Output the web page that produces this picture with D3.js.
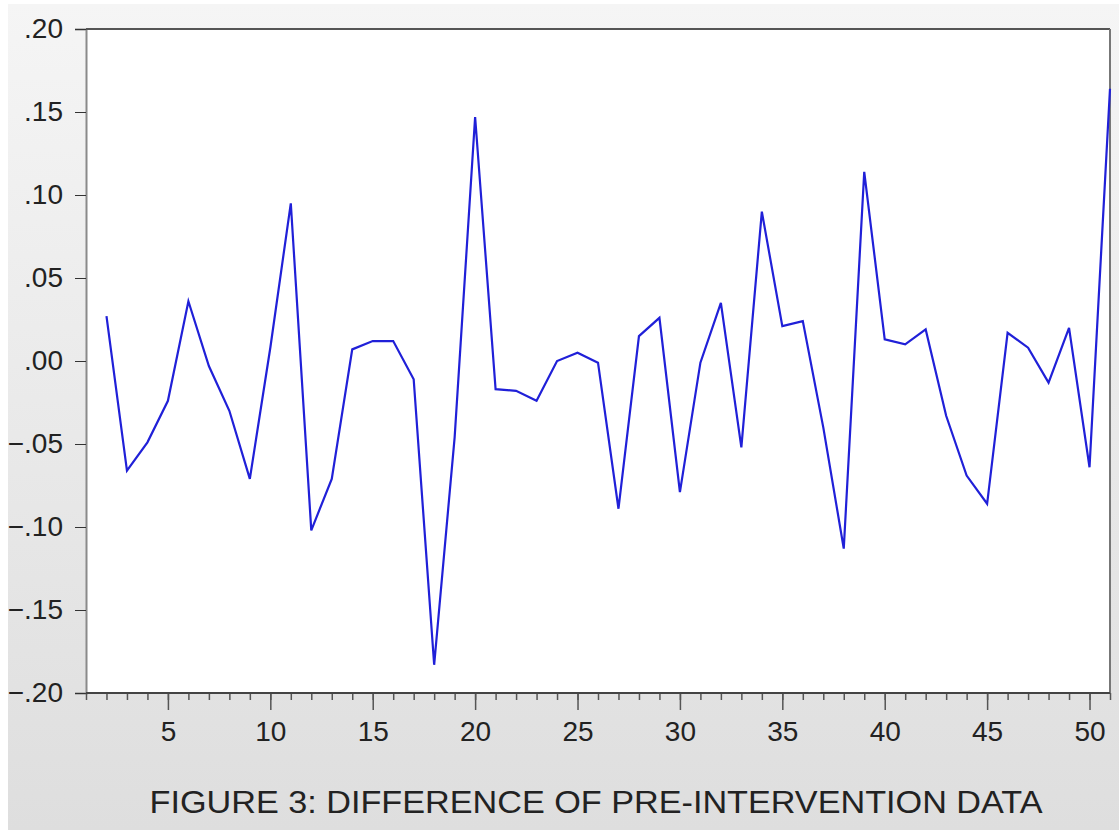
<!DOCTYPE html>
<html>
<head>
<meta charset="utf-8">
<script src="https://cdn.jsdelivr.net/npm/d3@7"></script>
<style>
  body { margin: 0; background: #ffffff; }
  svg { display: block; }
</style>
</head>
<body>
<div id="chart"></div>
<script>
var obs = d3.range(2, 52);
var diffValues = [
  0.027, -0.066, -0.049, -0.024, 0.036, -0.003, -0.030, -0.071, 0.008, 0.095,
  -0.102, -0.071, 0.007, 0.012, 0.012, -0.011, -0.183, -0.046, 0.147, -0.017,
  -0.018, -0.024, 0.000, 0.005, -0.001, -0.089, 0.015, 0.026, -0.079, -0.001,
  0.035, -0.052, 0.090, 0.021, 0.024, -0.040, -0.113, 0.114, 0.013, 0.010,
  0.019, -0.033, -0.069, -0.086, 0.017, 0.008, -0.013, 0.020, -0.064, 0.164
];
var yTicks = [0.20, 0.15, 0.10, 0.05, 0.00, -0.05, -0.10, -0.15, -0.20];
var xMajor = [5, 10, 15, 20, 25, 30, 35, 40, 45, 50];
var titleText = "FIGURE 3: DIFFERENCE OF PRE-INTERVENTION DATA";

var W = 1119, H = 830;
var margin = {top: 29, right: 9, bottom: 137, left: 86};
var width = W - margin.left - margin.right,
    height = H - margin.top - margin.bottom;

var svg = d3.select("#chart").append("svg").attr("width", W).attr("height", H);

// grey page background fading downward
var grad = svg.append("defs").append("linearGradient")
    .attr("id", "bg").attr("x1", 0).attr("y1", 0).attr("x2", 0).attr("y2", 1);
grad.append("stop").attr("offset", "0%").attr("stop-color", "#f5f5f5");
grad.append("stop").attr("offset", "100%").attr("stop-color", "#dedede");
svg.append("rect").attr("x", 8).attr("y", 4).attr("width", W - 8).attr("height", H - 4)
    .attr("fill", "url(#bg)");

var x = d3.scaleLinear().domain([1, 51]).range([0, width]);
var y = d3.scaleLinear().domain([-0.2, 0.2]).range([height, 0]);

var g = svg.append("g").attr("transform", `translate(${margin.left},${margin.top})`);

g.append("rect").attr("width", width).attr("height", height).attr("fill", "#ffffff");

// y axis
var yAxis = g.append("g")
    .call(d3.axisLeft(y).tickValues(yTicks).tickSize(11).tickPadding(12)
      .tickFormat(function(d) { return d3.format(".2f")(d).replace("0.", "."); }));
yAxis.select(".domain").attr("stroke", "#8a8a8a").attr("stroke-width", 2);
yAxis.selectAll(".tick line").attr("stroke", "#333");
yAxis.selectAll("text").attr("fill", "#222")
    .style("font-family", "'Liberation Sans', Arial, sans-serif").style("font-size", "28px");

// x axis: minor ticks every step, longer ticks at multiples of 5
var xg = g.append("g").attr("transform", `translate(0,${height})`);
xg.call(d3.axisBottom(x).tickValues(d3.range(1, 52)).tickSize(7).tickFormat(""));
xg.select(".domain").remove();
xg.selectAll(".tick line").attr("stroke", "#555").attr("stroke-width", 1.5);
var xg2 = g.append("g").attr("transform", `translate(0,${height})`);
xg2.call(d3.axisBottom(x).tickValues(xMajor).tickSize(17).tickPadding(11).tickFormat(d3.format("d")));
xg2.select(".domain").remove();
xg2.selectAll(".tick line").attr("stroke", "#555").attr("stroke-width", 1.5);
xg2.selectAll("text").attr("fill", "#222")
    .style("font-family", "'Liberation Sans', Arial, sans-serif").style("font-size", "28px");

// frame lines
g.append("line").attr("x1", 0).attr("x2", width).attr("y1", 0).attr("y2", 0)
    .attr("stroke", "#555").attr("stroke-width", 2);
g.append("line").attr("x1", width).attr("x2", width).attr("y1", 0).attr("y2", height)
    .attr("stroke", "#777").attr("stroke-width", 2);
g.append("line").attr("x1", 0).attr("x2", width).attr("y1", height).attr("y2", height)
    .attr("stroke", "#444").attr("stroke-width", 2);

// the series
var line = d3.line().x(function(d, i) { return x(obs[i]); }).y(function(d) { return y(d); });
g.append("path").datum(diffValues)
    .attr("fill", "none").attr("stroke", "#2020d8").attr("stroke-width", 2.2)
    .attr("stroke-linejoin", "miter").attr("d", line);

svg.append("text")
    .attr("x", 596).attr("y", 813).attr("text-anchor", "middle")
    .attr("fill", "#222")
    .attr("textLength", 893).attr("lengthAdjust", "spacingAndGlyphs")
    .style("font-family", "'Liberation Sans', Arial, sans-serif").style("font-size", "31px")
    .text(titleText);
</script>
</body>
</html>
